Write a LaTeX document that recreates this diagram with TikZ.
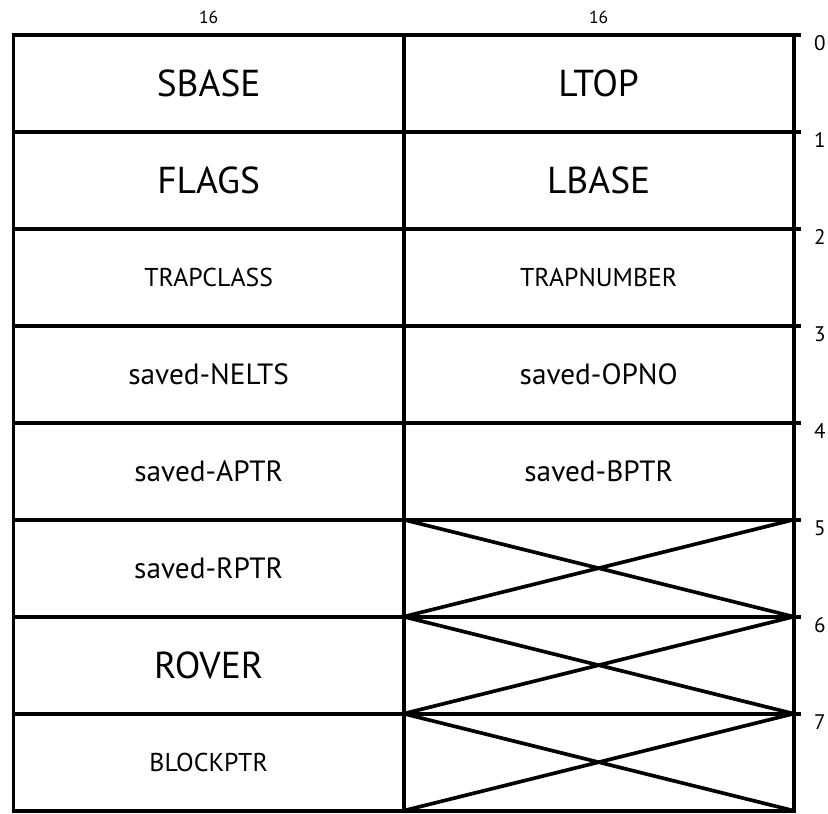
\documentclass[tikz,border=0pt]{standalone}
\usepackage{fontspec}
\setmainfont{PT Sans}
\usetikzlibrary{matrix, positioning}

\tikzset{
	big/.style={font=\fontsize{32}{32}\selectfont},
	mid/.style={font=\fontsize{25}{25}\selectfont},
	small/.style={font=\fontsize{22}{22}\selectfont},
	addr/.style={font=\fontsize{18}{18}\selectfont, anchor=west, inner sep=0pt},
	width/.style={font=\fontsize{15}{15}\selectfont}
}

\begin{document}
\begin{tikzpicture}[x=0.3mm, y=-0.3mm, line width=1.1mm]
	\useasboundingbox (0,0) rectangle (828,813);
	
	\matrix (K) [
	matrix of nodes,
	nodes in empty cells,
	inner sep=0pt,
	anchor=north west,
	nodes={
		draw,
		outer sep=0pt,
		minimum width=117mm,
		minimum height=29.1mm,
		anchor=center
	},
	column sep=-\pgflinewidth,
	row sep=-\pgflinewidth
	] at (10,31) {
		|[big]| SBASE         & |[big]| LTOP         \\
		|[big]| FLAGS         & |[big]| LBASE        \\
		|[small]| TRAPCLASS   & |[small]| TRAPNUMBER \\
		|[mid]| saved-NELTS   & |[mid]| saved-OPNO   \\
		|[mid]| saved-APTR    & |[mid]| saved-BPTR   \\
		|[mid]| saved-RPTR    &                      \\
		|[big]| ROVER         &                      \\
		|[small]| BLOCKPTR    &                      \\
	};
	
	% Anchos de campo
	\node[width, above=1.5mm of K-1-1] {16};
	\node[width, above=1.5mm of K-1-2] {16};
	
	% Palabras sin uso
	\foreach \r in {6,7,8}
	\draw (K-\r-2.north west) -- (K-\r-2.south east)
	(K-\r-2.south west) -- (K-\r-2.north east);
	
	% Direcciones
	\foreach \r [count=\n from 0] in {1,...,8} {
		\draw (K-\r-2.north east) -- ++(2.2mm,0);
		\node[addr] at ([xshift=5.6mm,yshift=-2.5mm]K-\r-2.north east) {\n};
	}
	
\end{tikzpicture}
\end{document}
